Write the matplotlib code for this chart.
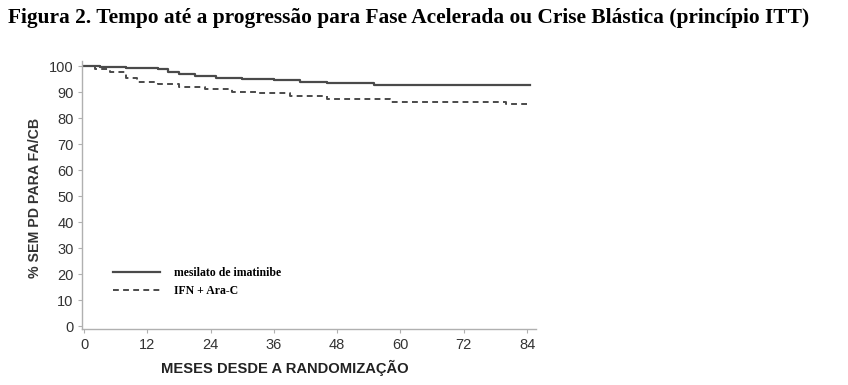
import matplotlib
matplotlib.use("Agg")
import matplotlib.pyplot as plt

# Data (step curves)
months_imatinib = [0, 3, 8, 14, 16, 18, 21, 25, 30, 36, 41, 46, 55, 82, 84.5]
surv_imatinib   = [100, 99.5, 99.1, 98.8, 97.6, 96.9, 96.2, 95.4, 95.0, 94.7, 94.0, 93.3, 92.8, 92.7, 92.7]

months_ifn = [0, 2, 5, 8, 10, 14, 18, 23, 28, 33, 39, 46, 58, 80, 84]
surv_ifn   = [100, 99.0, 97.8, 95.5, 94.0, 93.0, 92.0, 91.0, 90.1, 89.6, 88.4, 87.2, 86.3, 85.4, 85.4]

series_labels = ["mesilato de imatinibe", "IFN + Ara-C"]
xticks = [0, 12, 24, 36, 48, 60, 72, 84]
yticks = [0, 10, 20, 30, 40, 50, 60, 70, 80, 90, 100]

title = "Figura 2. Tempo até a progressão para Fase Acelerada ou Crise Blástica (princípio ITT)"
xlabel = "MESES DESDE A RANDOMIZAÇÃO"
ylabel = "% SEM PD PARA FA/CB"

W, H = 848, 385
fig = plt.figure(figsize=(W / 100, H / 100), dpi=100)
ax = fig.add_axes([82 / W, (H - 328.6) / H, (536 - 82) / W, (328.6 - 60.8) / H])

line_col = "#4a4a4a"
ax.step(months_imatinib, surv_imatinib, where="post", color=line_col, lw=1.6,
        label=series_labels[0])
ax.step(months_ifn, surv_ifn, where="post", color=line_col, lw=1.4,
        linestyle=(0, (3.0, 2.2)), label=series_labels[1])

ax.set_xlim(-0.38, 85.7)
ax.set_ylim(-1, 102)
ax.set_xticks(xticks)
ax.set_yticks(yticks)

for s in ["top", "right"]:
    ax.spines[s].set_visible(False)
for s in ["left", "bottom"]:
    ax.spines[s].set_color("#b0b0b0")
    ax.spines[s].set_linewidth(1.0)
ax.tick_params(axis="both", colors="#b0b0b0", length=3, width=0.8,
               labelcolor="#333333", labelsize=10.5)
for lab in ax.get_xticklabels() + ax.get_yticklabels():
    lab.set_family("Liberation Sans")
ax.tick_params(axis="x", pad=4)
ax.tick_params(axis="y", pad=3)

fig.text(285 / W, 1 - 368 / H, xlabel, ha="center", va="center",
         family="Liberation Sans", weight="bold", fontsize=10.6, color="#222222")
fig.text(35 / W, 1 - 198 / H, ylabel, ha="center", va="center", rotation=90,
         family="Liberation Sans", weight="bold", fontsize=10.2, color="#333333")
fig.text(8 / W, 1 - 18 / H, title, ha="left", va="center",
         family="Liberation Serif", weight="bold", fontsize=15.4, color="black")

leg = ax.legend(loc="upper left", bbox_to_anchor=(0.045, 0.27), frameon=False,
                handlelength=4.0, handletextpad=1.2, labelspacing=0.55,
                prop={"family": "Liberation Serif", "weight": "bold", "size": 8.5})

fig.savefig("out.png", dpi=100)
